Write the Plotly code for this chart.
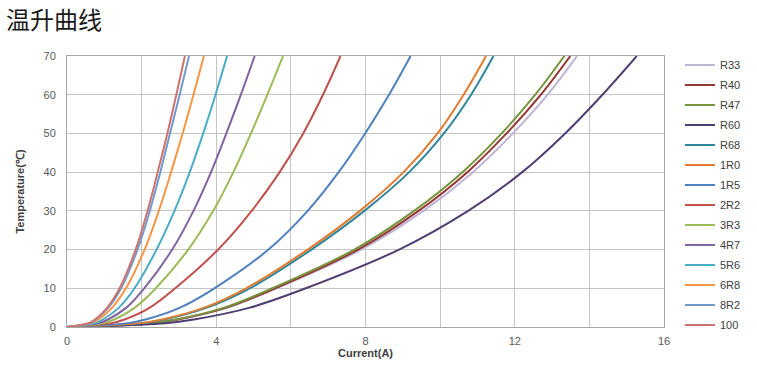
import plotly.graph_objects as go

# Temperature levels (°C) at which the current of each curve was read
temps = [0, 1, 2, 5, 10, 20, 30, 40, 50, 60, 70]

# Current (A) reaching each temperature level, per part
cur_R33 = [0, 2.32, 3.02, 4.30, 5.62, 7.88, 9.55, 10.88, 11.95, 12.88, 13.67]
cur_R40 = [0, 2.30, 3.00, 4.27, 5.58, 7.80, 9.42, 10.73, 11.78, 12.70, 13.49]
cur_R47 = [0, 2.27, 2.96, 4.21, 5.50, 7.70, 9.30, 10.60, 11.65, 12.55, 13.33]
cur_R60 = [0, 2.64, 3.44, 4.90, 6.40, 8.90, 10.75, 12.20, 13.35, 14.35, 15.27]
cur_R68 = [0, 2.02, 2.64, 3.75, 4.90, 6.55, 7.97, 9.17, 10.10, 10.83, 11.43]
cur_1R0 = [0, 1.98, 2.58, 3.68, 4.80, 6.45, 7.85, 9.02, 9.93, 10.63, 11.23]
cur_1R5 = [0, 1.63, 2.13, 3.03, 3.95, 5.40, 6.45, 7.28, 7.99, 8.63, 9.21]
cur_2R2 = [0, 1.19, 1.56, 2.22, 2.90, 4.05, 4.95, 5.70, 6.33, 6.86, 7.33]
cur_3R3 = [0, 0.98, 1.28, 1.82, 2.38, 3.25, 3.92, 4.46, 4.93, 5.37, 5.79]
cur_4R7 = [0, 0.85, 1.11, 1.59, 2.07, 2.82, 3.39, 3.86, 4.27, 4.66, 5.03]
cur_5R6 = [0, 0.75, 0.97, 1.39, 1.81, 2.40, 2.88, 3.29, 3.65, 3.98, 4.29]
cur_6R8 = [0, 0.65, 0.85, 1.21, 1.58, 2.08, 2.46, 2.79, 3.10, 3.39, 3.67]
cur_8R2 = [0, 0.60, 0.78, 1.11, 1.45, 1.89, 2.22, 2.50, 2.76, 3.02, 3.27]
cur_100 = [0, 0.58, 0.76, 1.08, 1.41, 1.84, 2.16, 2.43, 2.69, 2.93, 3.16]

names = ["R33", "R40", "R47", "R60", "R68", "1R0", "1R5",
         "2R2", "3R3", "4R7", "5R6", "6R8", "8R2", "100"]
currents = [cur_R33, cur_R40, cur_R47, cur_R60, cur_R68, cur_1R0, cur_1R5,
            cur_2R2, cur_3R3, cur_4R7, cur_5R6, cur_6R8, cur_8R2, cur_100]
colors = ["#BFB3D5", "#953735", "#77933C", "#4F3F72", "#31859C", "#E07B2F", "#4F81BD",
          "#C0504D", "#9BBB59", "#8064A2", "#4BACC6", "#F79646", "#729ACA", "#CD7371"]

x_ticks = [0, 4, 8, 12, 16]
y_ticks = [0, 10, 20, 30, 40, 50, 60, 70]

fig = go.Figure()
for name, cur, col in zip(names, currents, colors):
    fig.add_trace(go.Scatter(
        x=cur, y=temps, name=name, mode="lines", legendgroup=name,
        line=dict(color=col, width=2, shape="spline", smoothing=1.0),
    ))

fig.update_layout(
    width=757, height=370,
    margin=dict(l=67, r=92, t=56, b=43),
    paper_bgcolor="white", plot_bgcolor="white",
    font=dict(family="Liberation Sans, Arial", size=11, color="#595959"),
    title=dict(text="温升曲线", x=0.008, xanchor="left", y=0.944, yanchor="middle",
               font=dict(family="Noto Sans CJK SC", size=24, color="#1a1a1a")),
    showlegend=True,
    legend=dict(x=1.025, xanchor="left", y=1.02, yanchor="top",
                font=dict(size=11, color="#404040"), traceorder="grouped",
                tracegroupgap=1, bgcolor="rgba(0,0,0,0)", itemwidth=30),
)
try:
    fig.update_layout(legend_maxheight=340)
except Exception:
    fig.update_layout(legend_tracegroupgap=0)

fig.update_xaxes(
    range=[0, 16], tickvals=x_ticks, showgrid=True, gridcolor="#C4C4C4", gridwidth=1,
    minor=dict(dtick=2, showgrid=True, gridcolor="#C4C4C4", gridwidth=1),
    showline=True, linecolor="#A6A6A6", mirror=True, zeroline=False, ticks="",
    ticklabelstandoff=4,
    title=dict(text="<b>Current(A)</b>", standoff=0, font=dict(size=11, color="#404040")),
)
fig.update_yaxes(
    range=[0, 70], tickvals=y_ticks, showgrid=True, gridcolor="#C4C4C4", gridwidth=1,
    showline=True, linecolor="#A6A6A6", mirror=True, zeroline=False, ticks="",
    ticklabelstandoff=8,
    title=dict(text="<b>Temperature(℃)</b>", standoff=16, font=dict(size=11, color="#404040")),
)

fig.write_html("out.html", config={"displayModeBar": False},
               post_script="document.body.style.margin='0px';document.body.style.overflow='hidden';")
